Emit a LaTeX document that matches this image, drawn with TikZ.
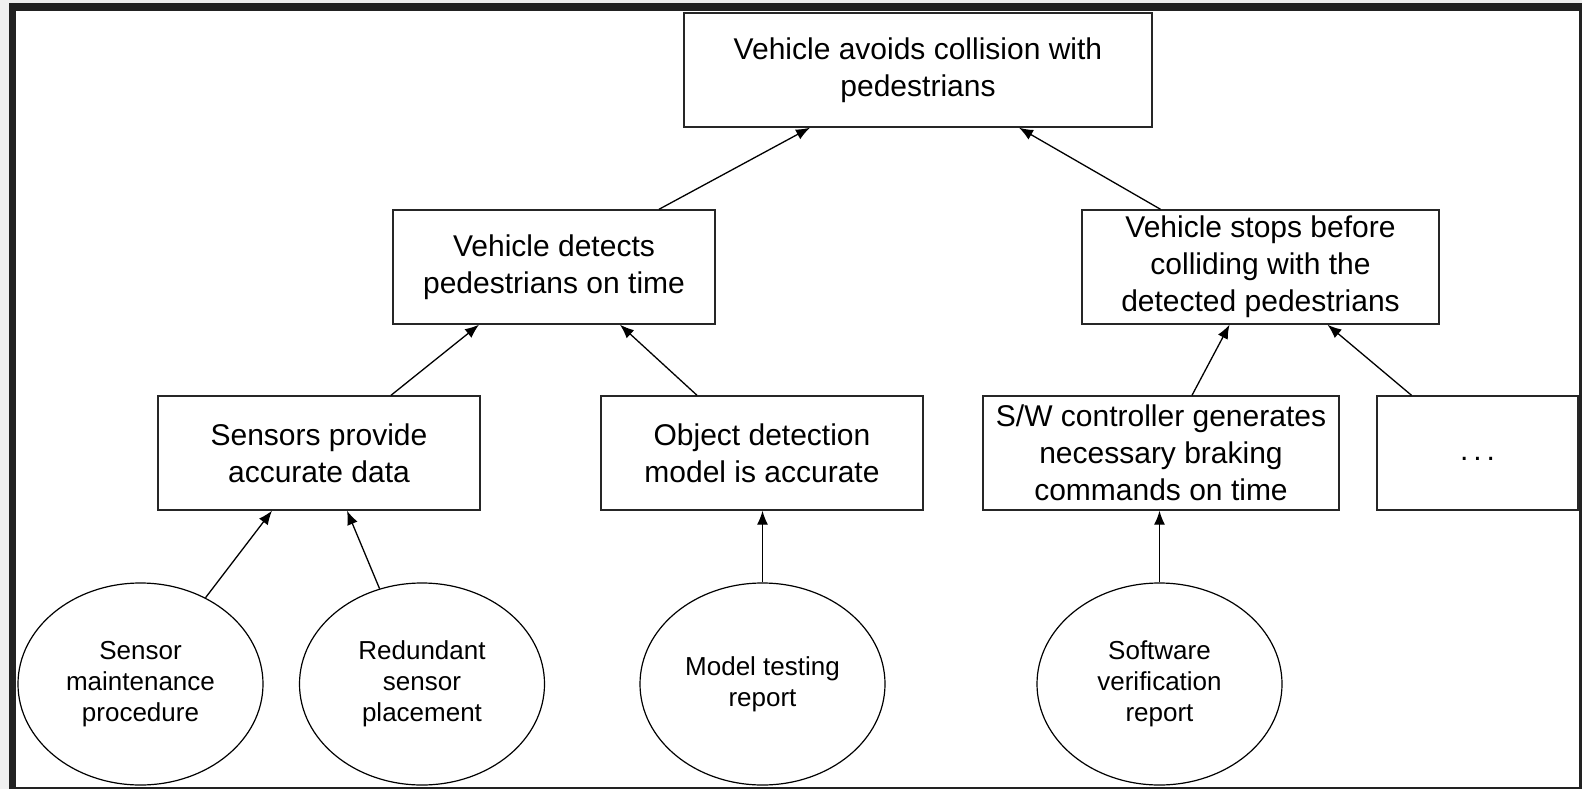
\documentclass[tikz,border=0pt]{standalone}
\usepackage{fontspec}
\setmainfont{Liberation Sans}
\usepackage{tikz}
\usetikzlibrary{arrows.meta,shapes.geometric}
\definecolor{framec}{HTML}{222222}

\begin{document}
\begin{tikzpicture}[x=1pt,y=-1pt,claim/.style={shape=rectangle,draw=black!85,line width=1.4pt,minimum height=114pt,align=center,inner sep=0pt,font=\fontsize{30}{37}\selectfont},evid/.style={shape=ellipse,draw=black,line width=1.2pt,minimum width=245pt,minimum height=202pt,align=center,inner sep=0pt,font=\fontsize{26}{31}\selectfont},arr/.style={line width=1.3pt,-{Latex[length=14pt,width=11pt]}}]
\def\ya{70};
\def\yb{267};
\def\yc{453};
\def\yd{684};

\useasboundingbox (0,0) rectangle (1582,789);
\fill[gray!12] (0,0) rectangle (1582,789);
\fill[framec] (9,3) rectangle (1582,789);
\fill[white] (16,11) rectangle (1579,787);

\node[claim,minimum width=468pt] (goal) at (918,\ya) {Vehicle avoids collision with\\pedestrians};

\node[claim,minimum width=322pt] (detect) at (554,\yb) {Vehicle detects\\pedestrians on time};
\draw[arr] ([xshift=105pt]detect.north) -- ([xshift=-108pt]goal.south);
\node[claim,minimum width=357pt] (stops) at (1260.5,\yb) {Vehicle stops before\\colliding with the\\detected pedestrians};
\draw[arr] ([xshift=-100pt]stops.north) -- ([xshift=101pt]goal.south);

\node[claim,minimum width=322pt] (sensors) at (319,\yc) {Sensors provide\\accurate data};
\draw[arr] ([xshift=72pt]sensors.north) -- ([xshift=-75pt]detect.south);
\node[claim,minimum width=322pt] (objdet) at (762,\yc) {Object detection\\model is accurate};
\draw[arr] ([xshift=-65pt]objdet.north) -- ([xshift=66pt]detect.south);
\node[claim,minimum width=356pt] (swctrl) at (1161,\yc) {S/W controller generates\\necessary braking\\commands on time};
\draw[arr] ([xshift=31pt]swctrl.north) -- ([xshift=-31pt]stops.south);
\node[claim,minimum width=201pt] (more) at (1477.5,\yc) {\strut.\,.\,.};
\draw[arr] ([xshift=-66pt]more.north) -- ([xshift=67pt]stops.south);

\node[evid] (maint) at (140.5,\yd) {Sensor\\maintenance\\procedure};
\draw[arr] (maint.53) -- ([xshift=-47pt]sensors.south);
\node[evid] (redund) at (422,\yd) {Redundant\\sensor\\placement};
\draw[arr] (redund.114) -- ([xshift=28pt]sensors.south);
\node[evid] (mtest) at (762.5,\yd) {Model testing\\report};
\draw[arr] (mtest.north) -- (mtest.north |- objdet.south);
\node[evid] (swver) at (1159.5,\yd) {Software\\verification\\report};
\draw[arr] (swver.north) -- (swver.north |- swctrl.south);
\end{tikzpicture}
\end{document}
